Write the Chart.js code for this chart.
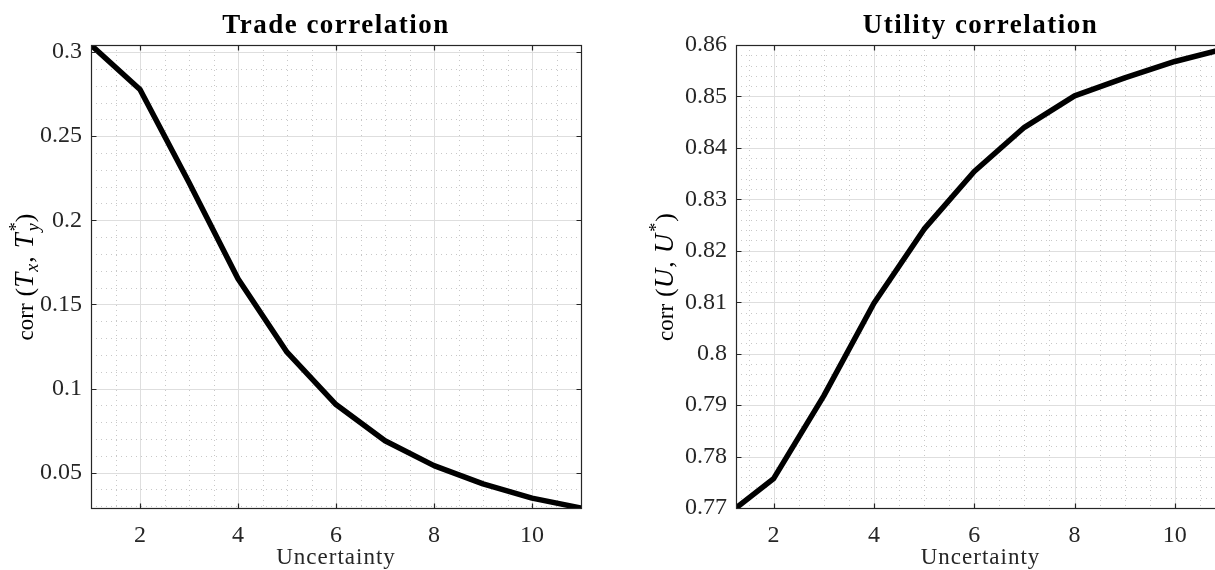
<!DOCTYPE html>
<html>
<head>
<meta charset="utf-8">
<script src="https://cdn.jsdelivr.net/npm/chart.js@4.4.0/dist/chart.umd.min.js"></script>
<style>
  html, body { margin: 0; padding: 0; background: #fff; overflow: hidden; width: 1215px; height: 570px; }
  #tradeChart { position: absolute; left: 0; top: 0; }
  #utilityChart { position: absolute; left: 620px; top: 0; }
</style>
</head>
<body>
<canvas id="tradeChart" width="600" height="570"></canvas>
<canvas id="utilityChart" width="620" height="570"></canvas>
<script>
// Data
const uncertainty = [1, 2, 3, 4, 5, 6, 7, 8, 9, 10, 11];
const tradeCorr = [0.3042, 0.2778, 0.2225, 0.1653, 0.1216, 0.0905, 0.0690, 0.0542, 0.0433, 0.0349, 0.0290];
const utilityCorr = [0.7681, 0.7757, 0.7918, 0.8098, 0.8242, 0.8354, 0.8440, 0.8501, 0.8536, 0.8568, 0.8593];

// Tick labels
const xTicks = [2, 4, 6, 8, 10];
const tradeTicks = [0.05, 0.1, 0.15, 0.2, 0.25, 0.3];
const utilityTicks = [0.77, 0.78, 0.79, 0.8, 0.81, 0.82, 0.83, 0.84, 0.85, 0.86];

const FONT = '"Liberation Serif", "DejaVu Serif", serif';
const AXIS_COL = '#262626';

// draws "corr (T_x, T_y^*)" style label rotated, with italic / sub / sup parts
function drawRichVertical(ctx, parts, cx, cy) {
    let total = 0;
    parts.forEach(p => {
        ctx.font = (p.italic ? 'italic ' : '') + p.size + 'px ' + FONT;
        p.w = ctx.measureText(p.text).width + (p.gap || 0);
        if (!p.stack) total += p.w;
    });
    ctx.save();
    ctx.translate(cx, cy);
    ctx.rotate(-Math.PI / 2);
    ctx.fillStyle = '#000';
    ctx.textBaseline = 'alphabetic';
    ctx.textAlign = 'left';
    let u = -total / 2;
    let lastX = u;
    parts.forEach(p => {
        ctx.font = (p.italic ? 'italic ' : '') + p.size + 'px ' + FONT;
        const x = p.stack ? lastX : u;
        ctx.fillText(p.text, x + (p.dx || 0), p.dy || 0);
        if (!p.stack) { lastX = u; u += p.w; }
    });
    ctx.restore();
}

function makeAxesPlugin(cfg) {
    const isMajor = (v, list) => list.some(t => Math.abs(t - v) < 1e-7);
    return {
        id: 'matlabAxes',
        beforeDatasetsDraw(chart) {
            const { ctx, chartArea: a, scales: { x, y } } = chart;
            ctx.save();
            ctx.beginPath();
            ctx.rect(a.left, a.top, a.right - a.left, a.bottom - a.top);
            ctx.clip();
            ctx.lineWidth = 1;
            // minor grid (dotted)
            ctx.strokeStyle = '#c8c8c8';
            ctx.setLineDash([1, 4]);
            for (let k = Math.ceil(x.min / cfg.minorX - 1e-9); k * cfg.minorX <= x.max + 1e-9; k++) {
                const v = k * cfg.minorX;
                if (isMajor(v, cfg.xTicks)) continue;
                const px = Math.round(x.getPixelForValue(v)) + 0.5;
                ctx.beginPath(); ctx.moveTo(px, a.top); ctx.lineTo(px, a.bottom); ctx.stroke();
            }
            for (let k = Math.ceil(y.min / cfg.minorY - 1e-9); k * cfg.minorY <= y.max + 1e-9; k++) {
                const v = k * cfg.minorY;
                if (isMajor(v, cfg.yTicks)) continue;
                const py = Math.round(y.getPixelForValue(v)) + 0.5;
                ctx.beginPath(); ctx.moveTo(a.left, py); ctx.lineTo(a.right, py); ctx.stroke();
            }
            // major grid
            ctx.setLineDash([]);
            ctx.strokeStyle = '#dedede';
            cfg.xTicks.forEach(v => {
                const px = Math.round(x.getPixelForValue(v)) + 0.5;
                ctx.beginPath(); ctx.moveTo(px, a.top); ctx.lineTo(px, a.bottom); ctx.stroke();
            });
            cfg.yTicks.forEach(v => {
                const py = Math.round(y.getPixelForValue(v)) + 0.5;
                ctx.beginPath(); ctx.moveTo(a.left, py); ctx.lineTo(a.right, py); ctx.stroke();
            });
            ctx.restore();
        },
        afterDatasetsDraw(chart) {
            const { ctx, chartArea: a, scales: { x, y } } = chart;
            ctx.save();
            ctx.strokeStyle = AXIS_COL;
            ctx.lineWidth = 1.2;
            const L = Math.round(a.left) + 0.5, R = Math.round(a.right) + 0.5;
            const T = Math.round(a.top) + 0.5, B = Math.round(a.bottom) + 0.5;
            ctx.strokeRect(L, T, R - L, B - T);
            const tl = 5;
            ctx.beginPath();
            cfg.xTicks.forEach(v => {
                const px = Math.round(x.getPixelForValue(v)) + 0.5;
                ctx.moveTo(px, B); ctx.lineTo(px, B - tl);
                ctx.moveTo(px, T); ctx.lineTo(px, T + tl);
            });
            cfg.yTicks.forEach(v => {
                const py = Math.round(y.getPixelForValue(v)) + 0.5;
                ctx.moveTo(L, py); ctx.lineTo(L + tl, py);
                ctx.moveTo(R, py); ctx.lineTo(R - tl, py);
            });
            ctx.stroke();
            ctx.restore();
        },
        afterDraw(chart) {
            const { ctx, chartArea: a } = chart;
            const cx = (a.left + a.right) / 2;
            ctx.save();
            ctx.fillStyle = '#000';
            ctx.textAlign = 'center';
            ctx.textBaseline = 'alphabetic';
            ctx.font = 'bold 27px ' + FONT;
            ctx.letterSpacing = '1.5px';
            ctx.fillText(cfg.title, cx, 33);
            ctx.font = '23px ' + FONT;
            ctx.letterSpacing = '1px';
            ctx.fillStyle = AXIS_COL;
            ctx.fillText('Uncertainty', cx, 564);
            ctx.letterSpacing = '0px';
            ctx.restore();
            drawRichVertical(ctx, cfg.yLabel, cfg.yLabelX, 277);
        }
    };
}

function buildChart(id, values, yMin, yMax, xMin, xMax, yTicks, yAxisWidth, padRight, plugCfg) {
    const ctx = document.getElementById(id).getContext('2d');
    return new Chart(ctx, {
        type: 'line',
        data: {
            datasets: [{
                data: uncertainty.map((u, i) => ({ x: u, y: values[i] })),
                borderColor: '#000',
                borderWidth: 5.5,
                pointRadius: 0,
                fill: false,
                tension: 0,
                borderJoinStyle: 'round'
            }]
        },
        options: {
            responsive: false,
            animation: false,
            events: [],
            layout: { padding: { top: 45, right: padRight, left: 0, bottom: 0 } },
            plugins: { legend: { display: false }, tooltip: { enabled: false }, title: { display: false } },
            scales: {
                x: {
                    type: 'linear',
                    min: xMin,
                    max: xMax,
                    afterBuildTicks: s => { s.ticks = xTicks.map(v => ({ value: v })); },
                    afterFit: s => { s.height = 62; },
                    grid: { display: false, drawTicks: false },
                    border: { display: false },
                    ticks: {
                        autoSkip: false, maxRotation: 0, padding: 13,
                        color: AXIS_COL,
                        font: { family: FONT, size: 24 },
                        callback: v => String(v)
                    }
                },
                y: {
                    type: 'linear',
                    min: yMin,
                    max: yMax,
                    afterBuildTicks: s => { s.ticks = yTicks.map(v => ({ value: v })); },
                    afterFit: s => { s.width = yAxisWidth; },
                    grid: { display: false, drawTicks: false },
                    border: { display: false },
                    ticks: {
                        autoSkip: false, padding: 9,
                        color: AXIS_COL,
                        font: { family: FONT, size: 24 },
                        callback: v => String(+v.toFixed(4))
                    }
                }
            }
        },
        plugins: [makeAxesPlugin(plugCfg)]
    });
}

buildChart('tradeChart', tradeCorr, Math.min(...tradeCorr), Math.max(...tradeCorr), 1, 11,
    tradeTicks, 91, 19, {
        title: 'Trade correlation',
        xTicks: xTicks, yTicks: tradeTicks, minorX: 0.5, minorY: 0.01,
        yLabelX: 33,
        yLabel: [
            { text: 'corr', size: 23, gap: 7 },
            { text: '(', size: 26 },
            { text: 'T', size: 27, italic: true, gap: 1 },
            { text: 'x', size: 18, italic: true, dy: 5, gap: 1 },
            { text: ',', size: 26, gap: 8 },
            { text: 'T', size: 27, italic: true, gap: 2 },
            { text: '*', size: 18, dy: -11 },
            { text: 'y', size: 18, italic: true, dy: 6, stack: true, gap: 1 },
            { text: ')', size: 26 }
        ]
    });

buildChart('utilityChart', utilityCorr, 0.77, 0.86, 1.25, 11,
    utilityTicks, 116, 15, {
        title: 'Utility correlation',
        xTicks: xTicks, yTicks: utilityTicks, minorX: 0.5, minorY: 0.002,
        yLabelX: 53,
        yLabel: [
            { text: 'corr', size: 23, gap: 7 },
            { text: '(', size: 26 },
            { text: 'U', size: 27, italic: true, gap: 1 },
            { text: ',', size: 26, gap: 8 },
            { text: 'U', size: 27, italic: true, gap: 2 },
            { text: '*', size: 18, dy: -11, gap: 1 },
            { text: ')', size: 26 }
        ]
    });
</script>
</body>
</html>
